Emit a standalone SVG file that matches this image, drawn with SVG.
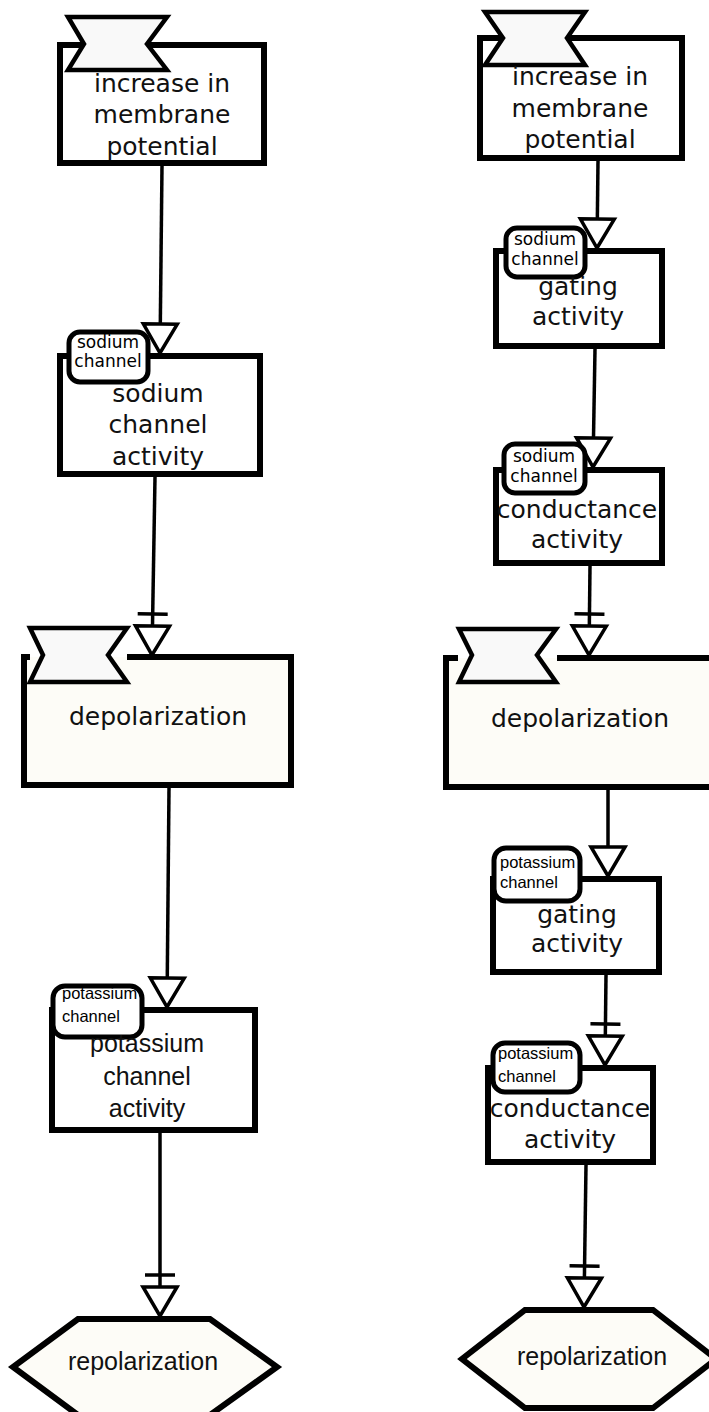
<svg xmlns="http://www.w3.org/2000/svg" width="709" height="1412" viewBox="0 0 709 1412">
<style>
.bg{fill:#ffffff}
.box{fill:#ffffff;stroke:#000;stroke-width:6}
.cbox{fill:#fdfcf7;stroke:none}
.cbord{fill:none;stroke:#000;stroke-width:6}
.clone{fill:#f9f9f9;stroke:#000;stroke-width:4.5;stroke-linejoin:miter}
.hex{fill:#fdfcf7;stroke:#000;stroke-width:6;stroke-linejoin:miter}
.uoi{fill:#ffffff;stroke:#000;stroke-width:5}
.t{font-family:"DejaVu Sans",sans-serif;font-size:25px;text-anchor:middle;fill:#111}
.ta{font-family:"Liberation Sans",Arial,sans-serif;font-size:25px;text-anchor:middle;fill:#111}
.u{font-family:"DejaVu Sans",sans-serif;font-size:17px;text-anchor:middle;fill:#000}
.ua{font-family:"Liberation Sans",Arial,sans-serif;font-size:16.5px;fill:#000}
.edge{fill:none;stroke:#000;stroke-width:3.5}
</style>
<defs>
<marker id="stim" markerUnits="userSpaceOnUse" orient="auto" refX="0" refY="0" markerWidth="1" markerHeight="1" overflow="visible">
<path d="M-29,-17 L0,0 L-29,17 Z" fill="#fff" stroke="#000" stroke-width="3.5" stroke-linejoin="miter"/>
</marker>
<marker id="nec" markerUnits="userSpaceOnUse" orient="auto" refX="0" refY="0" markerWidth="1" markerHeight="1" overflow="visible">
<path d="M-41,-15 L-41,15" fill="none" stroke="#000" stroke-width="3.5"/>
<path d="M-29,-17 L0,0 L-29,17 Z" fill="#fff" stroke="#000" stroke-width="3.5" stroke-linejoin="miter"/>
</marker>
</defs>
<rect class="bg" x="0" y="0" width="709" height="1412"/>

<g id="connectors">
<path class="edge" d="M162,166 L160,353" marker-end="url(#stim)"/>
<path class="edge" d="M155,477 L152,655" marker-end="url(#nec)"/>
<path class="edge" d="M169,788 L167,1007" marker-end="url(#stim)"/>
<path class="edge" d="M160,1133 L160,1316" marker-end="url(#nec)"/>
<path class="edge" d="M598,161 L597,248" marker-end="url(#stim)"/>
<path class="edge" d="M595,349 L593,467" marker-end="url(#stim)"/>
<path class="edge" d="M590,566 L589,655" marker-end="url(#nec)"/>
<path class="edge" d="M608,790 L608,876" marker-end="url(#stim)"/>
<path class="edge" d="M606,975 L605,1065" marker-end="url(#nec)"/>
<path class="edge" d="M586,1165 L584,1307" marker-end="url(#nec)"/>
</g>

<g id="L_increase">
<rect class="box" x="60" y="45" width="204" height="118"/>
<path class="clone" d="M68,17 H167 L147,44 L167,70 H68 L84,44 Z"/>
<text class="t" x="162" y="92">increase in</text>
<text class="t" x="162" y="123">membrane</text>
<text class="t" x="162" y="155">potential</text>
</g>

<g id="L_sodium">
<rect class="box" x="60" y="356" width="200" height="118"/>
<rect class="uoi" x="69" y="332" width="79" height="50" rx="11"/>
<text class="u" x="108" y="348">sodium</text>
<text class="u" x="108" y="367">channel</text>
<text class="t" x="158" y="402">sodium</text>
<text class="t" x="158" y="433">channel</text>
<text class="t" x="158" y="465">activity</text>
</g>

<g id="L_depol">
<rect class="cbox" x="24" y="657" width="267" height="128"/>
<path class="cbord" d="M30,657 H24 V785 H291 V657 H127"/>
<path class="clone" d="M30,628 H127 L108,655 L127,682 H30 L43,655 Z"/>
<text class="t" x="158" y="725">depolarization</text>
</g>

<g id="L_potassium">
<rect class="box" x="52" y="1010" width="203" height="120"/>
<rect class="uoi" x="53" y="986" width="89" height="51" rx="12"/>
<text class="ua" x="62" y="999">potassium</text>
<text class="ua" x="62" y="1022">channel</text>
<text class="ta" x="147" y="1052">potassium</text>
<text class="ta" x="147" y="1085">channel</text>
<text class="ta" x="147" y="1117">activity</text>
</g>

<g id="L_repol">
<path class="hex" d="M78,1319 H210 L277,1367 L210,1415 H78 L13,1367 Z"/>
<text class="ta" x="143" y="1370">repolarization</text>
</g>

<g id="R_increase">
<rect class="box" x="480" y="38" width="202" height="120"/>
<path class="clone" d="M485,12 H585 L567,38 L585,65 H485 L503,38 Z"/>
<text class="t" x="580" y="85">increase in</text>
<text class="t" x="580" y="117">membrane</text>
<text class="t" x="580" y="148">potential</text>
</g>

<g id="R_na_gating">
<rect class="box" x="496" y="251" width="166" height="95"/>
<rect class="uoi" x="506" y="228" width="79" height="49" rx="11"/>
<text class="u" x="545" y="245">sodium</text>
<text class="u" x="545" y="265">channel</text>
<text class="t" x="578" y="295">gating</text>
<text class="t" x="578" y="325">activity</text>
</g>

<g id="R_na_conductance">
<rect class="box" x="496" y="470" width="166" height="93"/>
<rect class="uoi" x="504" y="444" width="81" height="49" rx="11"/>
<text class="u" x="544" y="462">sodium</text>
<text class="u" x="544" y="482">channel</text>
<text class="t" x="577" y="518">conductance</text>
<text class="t" x="577" y="548">activity</text>
</g>

<g id="R_depol">
<rect class="cbox" x="446" y="658" width="270" height="129"/>
<path class="cbord" d="M458,658 H446 V787 H716 V658 H557"/>
<path class="clone" d="M459,629 H556 L537,655 L556,682 H459 L472,655 Z"/>
<text class="t" x="580" y="727">depolarization</text>
</g>

<g id="R_k_gating">
<rect class="box" x="493" y="879" width="166" height="93"/>
<rect class="uoi" x="494" y="848" width="86" height="53" rx="12"/>
<text class="ua" x="500" y="868">potassium</text>
<text class="ua" x="500" y="888">channel</text>
<text class="t" x="577" y="923">gating</text>
<text class="t" x="577" y="952">activity</text>
</g>

<g id="R_k_conductance">
<rect class="box" x="488" y="1068" width="165" height="94"/>
<rect class="uoi" x="493" y="1043" width="87" height="49" rx="12"/>
<text class="ua" x="498" y="1059">potassium</text>
<text class="ua" x="498" y="1082">channel</text>
<text class="t" x="570" y="1117">conductance</text>
<text class="t" x="570" y="1148">activity</text>
</g>

<g id="R_repol">
<path class="hex" d="M525,1310 H653 L716,1359 L653,1408 H525 L462,1359 Z"/>
<text class="ta" x="592" y="1365">repolarization</text>
</g>
</svg>
